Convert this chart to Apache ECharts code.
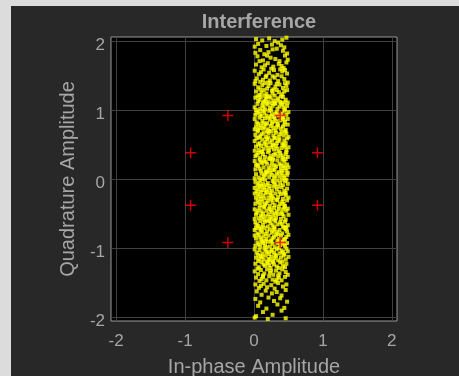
<!DOCTYPE html>
<html>
<head>
<meta charset="utf-8">
<script src="https://cdn.jsdelivr.net/npm/echarts@6/dist/echarts.min.js"></script>
<style>html,body{margin:0;padding:0;background:#dcdcdc;}#c{width:459px;height:376px;}</style>
</head>
<body>
<div id="c"></div>
<script>
const titleText = 'Interference';
const xName = 'In-phase Amplitude';
const yName = 'Quadrature Amplitude';
const tickValues = [-2, -1, 0, 1, 2];

// reference constellation (red +)
const refI = [0.92, 0.38, -0.38, -0.92, -0.92, -0.38, 0.38, 0.92];
const refQ = [0.38, 0.92, 0.92, 0.38, -0.38, -0.92, -0.92, -0.38];

// received interference samples (yellow), [I, Q]
const interfPoints = [
[0.03,2.03],[0.22,2.04],[0.41,2.02],[0.12,2.01],[0.47,2.05],[0.30,2.00],
[0.06,1.96],[0.18,1.93],[0.35,1.98],[0.44,1.91],[0.26,1.95],[0.01,1.92],[0.39,1.94],
[0.09,1.87],[0.21,1.84],[0.33,1.89],[0.48,1.82],[0.15,1.81],[0.42,1.86],[0.02,1.83],[0.27,1.88],
[0.05,1.78],[0.13,1.72],[0.24,1.76],[0.37,1.71],[0.45,1.79],[0.31,1.74],[0.19,1.79],[0.49,1.73],[0.08,1.71],
[0.03,1.66],[0.11,1.62],[0.20,1.68],[0.28,1.63],[0.36,1.67],[0.43,1.61],[0.16,1.65],[0.47,1.69],[0.25,1.60],[0.40,1.64],
[0.01,1.57],[0.07,1.52],[0.14,1.59],[0.22,1.54],[0.29,1.58],[0.34,1.51],[0.41,1.56],[0.48,1.53],[0.18,1.50],[0.38,1.59],[0.10,1.55],[0.45,1.58],
[0.04,1.46],[0.09,1.41],[0.17,1.48],[0.23,1.43],[0.30,1.47],[0.35,1.42],[0.44,1.45],[0.49,1.40],[0.13,1.44],[0.27,1.49],[0.40,1.49],[0.02,1.42],[0.20,1.40],
[0.01,1.38],[0.06,1.33],[0.12,1.36],[0.19,1.31],[0.24,1.39],[0.31,1.34],[0.37,1.37],[0.42,1.32],[0.47,1.35],[0.15,1.39],[0.28,1.30],[0.45,1.39],[0.09,1.30],[0.33,1.38],[0.21,1.35],
[0.03,1.27],[0.08,1.22],[0.14,1.29],[0.18,1.24],[0.26,1.28],[0.30,1.21],[0.36,1.26],[0.41,1.23],[0.48,1.29],[0.11,1.25],[0.22,1.20],[0.33,1.29],[0.44,1.27],[0.05,1.20],[0.39,1.20],[0.16,1.21],[0.27,1.24],
[0.02,1.18],[0.06,1.13],[0.10,1.19],[0.13,1.11],[0.17,1.16],[0.21,1.12],[0.24,1.18],[0.28,1.14],[0.31,1.10],[0.35,1.17],[0.38,1.12],[0.42,1.19],[0.46,1.15],[0.49,1.11],[0.08,1.15],[0.19,1.19],[0.33,1.14],[0.44,1.11],[0.26,1.10],[0.15,1.13],
[0.01,1.04],[0.05,1.09],[0.09,1.02],[0.12,1.07],[0.16,1.01],[0.20,1.08],[0.23,1.03],[0.27,1.06],[0.30,1.09],[0.34,1.02],[0.37,1.05],[0.41,1.08],[0.45,1.01],[0.48,1.06],[0.03,1.00],[0.14,1.05],[0.25,1.00],[0.39,1.10],[0.43,1.04],[0.18,1.10],
[0.02,0.93],[0.07,0.98],[0.11,0.91],[0.15,0.96],[0.18,0.92],[0.22,0.99],[0.26,0.94],[0.29,0.90],[0.33,0.97],[0.36,0.92],[0.40,0.95],[0.44,0.99],[0.47,0.93],[0.50,0.97],[0.04,0.96],[0.13,0.99],[0.24,0.91],[0.31,0.95],[0.42,0.90],[0.09,0.94],
[0.01,0.87],[0.04,0.82],[0.08,0.89],[0.12,0.84],[0.16,0.88],[0.19,0.81],[0.23,0.86],[0.27,0.83],[0.30,0.88],[0.34,0.80],[0.38,0.85],[0.41,0.89],[0.45,0.83],[0.49,0.87],[0.06,0.80],[0.14,0.81],[0.21,0.89],[0.32,0.84],[0.43,0.86],[0.26,0.80],
[0.03,0.76],[0.06,0.71],[0.10,0.78],[0.13,0.73],[0.17,0.79],[0.20,0.72],[0.24,0.77],[0.28,0.74],[0.31,0.70],[0.35,0.78],[0.39,0.73],[0.42,0.76],[0.46,0.71],[0.49,0.79],[0.01,0.72],[0.15,0.75],[0.22,0.70],[0.33,0.75],[0.44,0.79],[0.08,0.74],
[0.02,0.64],[0.05,0.69],[0.09,0.62],[0.14,0.67],[0.17,0.61],[0.21,0.66],[0.25,0.69],[0.28,0.63],[0.32,0.67],[0.36,0.61],[0.40,0.68],[0.43,0.63],[0.47,0.66],[0.50,0.61],[0.11,0.65],[0.19,0.69],[0.30,0.60],[0.38,0.65],[0.07,0.60],[0.45,0.69],
[0.01,0.55],[0.04,0.59],[0.08,0.52],[0.12,0.57],[0.15,0.51],[0.19,0.58],[0.23,0.53],[0.26,0.56],[0.30,0.59],[0.33,0.52],[0.37,0.57],[0.41,0.51],[0.44,0.56],[0.48,0.59],[0.06,0.50],[0.17,0.54],[0.28,0.50],[0.35,0.55],[0.46,0.52],[0.21,0.60],
[0.03,0.47],[0.07,0.42],[0.10,0.48],[0.14,0.44],[0.18,0.49],[0.22,0.41],[0.25,0.46],[0.29,0.43],[0.32,0.48],[0.36,0.40],[0.40,0.45],[0.43,0.49],[0.47,0.42],[0.50,0.46],[0.01,0.41],[0.12,0.40],[0.20,0.45],[0.34,0.44],[0.45,0.47],[0.27,0.49],
[0.02,0.33],[0.06,0.38],[0.09,0.31],[0.13,0.36],[0.16,0.32],[0.20,0.39],[0.24,0.34],[0.27,0.30],[0.31,0.37],[0.35,0.33],[0.38,0.38],[0.42,0.31],[0.46,0.36],[0.49,0.32],[0.04,0.35],[0.11,0.39],[0.22,0.30],[0.29,0.35],[0.40,0.34],[0.47,0.39],
[0.01,0.26],[0.05,0.21],[0.08,0.28],[0.12,0.23],[0.15,0.27],[0.19,0.22],[0.23,0.29],[0.26,0.24],[0.30,0.20],[0.34,0.27],[0.37,0.22],[0.41,0.28],[0.44,0.25],[0.48,0.21],[0.03,0.20],[0.17,0.25],[0.28,0.28],[0.39,0.20],[0.10,0.25],[0.46,0.29],
[0.02,0.14],[0.06,0.19],[0.10,0.12],[0.14,0.17],[0.17,0.11],[0.21,0.16],[0.25,0.19],[0.28,0.13],[0.32,0.18],[0.36,0.10],[0.39,0.15],[0.43,0.19],[0.47,0.12],[0.50,0.17],[0.08,0.15],[0.19,0.10],[0.30,0.14],[0.41,0.12],[0.23,0.13],[0.45,0.16],
[0.03,0.07],[0.07,0.02],[0.11,0.08],[0.14,0.04],[0.18,0.09],[0.22,0.03],[0.26,0.06],[0.29,0.01],[0.33,0.08],[0.37,0.04],[0.40,0.09],[0.44,0.02],[0.48,0.06],[0.01,0.01],[0.12,0.00],[0.16,0.06],[0.24,0.09],[0.31,0.04],[0.42,0.05],[0.49,0.09],
[0.02,-0.04],[0.05,-0.09],[0.09,-0.02],[0.13,-0.07],[0.16,-0.01],[0.20,-0.06],[0.23,-0.10],[0.27,-0.03],[0.31,-0.08],[0.34,-0.02],[0.38,-0.06],[0.42,-0.09],[0.45,-0.03],[0.49,-0.07],[0.07,-0.06],[0.18,-0.09],[0.29,-0.05],[0.40,-0.01],[0.11,-0.10],[0.47,-0.01],
[0.01,-0.13],[0.04,-0.18],[0.08,-0.11],[0.12,-0.16],[0.15,-0.12],[0.19,-0.19],[0.22,-0.14],[0.26,-0.17],[0.29,-0.11],[0.33,-0.15],[0.37,-0.19],[0.40,-0.12],[0.44,-0.17],[0.48,-0.14],[0.06,-0.15],[0.17,-0.16],[0.24,-0.20],[0.35,-0.11],[0.46,-0.20],[0.10,-0.19],
[0.03,-0.27],[0.06,-0.22],[0.10,-0.29],[0.13,-0.24],[0.17,-0.21],[0.21,-0.27],[0.24,-0.23],[0.28,-0.28],[0.31,-0.21],[0.35,-0.26],[0.39,-0.22],[0.42,-0.29],[0.46,-0.24],[0.50,-0.27],[0.01,-0.21],[0.15,-0.28],[0.26,-0.25],[0.33,-0.30],[0.44,-0.21],[0.08,-0.25],
[0.02,-0.36],[0.05,-0.31],[0.09,-0.38],[0.12,-0.33],[0.16,-0.37],[0.20,-0.32],[0.23,-0.39],[0.27,-0.34],[0.30,-0.38],[0.34,-0.31],[0.38,-0.36],[0.41,-0.33],[0.45,-0.39],[0.48,-0.31],[0.07,-0.34],[0.14,-0.40],[0.25,-0.30],[0.36,-0.40],[0.43,-0.36],[0.18,-0.35],
[0.01,-0.44],[0.04,-0.49],[0.08,-0.42],[0.11,-0.47],[0.15,-0.41],[0.18,-0.46],[0.22,-0.43],[0.26,-0.48],[0.29,-0.42],[0.33,-0.47],[0.36,-0.44],[0.40,-0.49],[0.44,-0.41],[0.47,-0.46],[0.06,-0.46],[0.13,-0.50],[0.24,-0.45],[0.31,-0.50],[0.42,-0.44],[0.49,-0.43],
[0.03,-0.52],[0.07,-0.57],[0.10,-0.53],[0.14,-0.59],[0.17,-0.54],[0.21,-0.51],[0.25,-0.58],[0.28,-0.53],[0.32,-0.56],[0.35,-0.51],[0.39,-0.58],[0.43,-0.54],[0.46,-0.59],[0.50,-0.52],[0.01,-0.58],[0.12,-0.55],[0.19,-0.60],[0.30,-0.59],[0.41,-0.51],[0.23,-0.55],
[0.02,-0.63],[0.06,-0.68],[0.09,-0.61],[0.13,-0.66],[0.16,-0.62],[0.20,-0.69],[0.24,-0.64],[0.27,-0.67],[0.31,-0.61],[0.34,-0.66],[0.38,-0.63],[0.42,-0.69],[0.45,-0.62],[0.49,-0.67],[0.04,-0.66],[0.11,-0.70],[0.22,-0.61],[0.29,-0.70],[0.40,-0.65],[0.47,-0.70],
[0.01,-0.74],[0.05,-0.79],[0.08,-0.72],[0.12,-0.77],[0.15,-0.71],[0.19,-0.76],[0.23,-0.73],[0.26,-0.78],[0.30,-0.72],[0.33,-0.77],[0.37,-0.74],[0.41,-0.79],[0.44,-0.71],[0.48,-0.76],[0.10,-0.75],[0.17,-0.80],[0.28,-0.75],[0.35,-0.80],[0.46,-0.73],[0.03,-0.71],
[0.03,-0.86],[0.07,-0.81],[0.11,-0.88],[0.14,-0.83],[0.18,-0.87],[0.21,-0.82],[0.25,-0.89],[0.29,-0.84],[0.32,-0.81],[0.36,-0.87],[0.39,-0.82],[0.43,-0.88],[0.47,-0.84],[0.50,-0.81],[0.01,-0.82],[0.09,-0.85],[0.16,-0.90],[0.27,-0.86],[0.34,-0.90],[0.45,-0.87],
[0.02,-0.97],[0.05,-0.92],[0.09,-0.98],[0.13,-0.93],[0.16,-0.96],[0.20,-0.91],[0.23,-0.98],[0.27,-0.94],[0.30,-0.99],[0.34,-0.93],[0.38,-0.96],[0.41,-0.91],[0.45,-0.97],[0.48,-0.93],[0.07,-0.95],[0.18,-0.99],[0.25,-0.91],[0.36,-1.00],[0.43,-0.94],[0.11,-0.91],
[0.01,-1.02],[0.04,-1.07],[0.08,-1.03],[0.12,-1.08],[0.15,-1.01],[0.19,-1.06],[0.22,-1.09],[0.26,-1.03],[0.29,-1.07],[0.33,-1.02],[0.37,-1.08],[0.40,-1.04],[0.44,-1.09],[0.47,-1.01],[0.06,-1.10],[0.17,-1.04],[0.31,-1.10],[0.42,-1.06],[0.24,-1.05],[0.49,-1.05],
[0.03,-1.14],[0.06,-1.19],[0.10,-1.12],[0.14,-1.17],[0.17,-1.11],[0.21,-1.16],[0.25,-1.13],[0.28,-1.19],[0.32,-1.12],[0.35,-1.18],[0.39,-1.14],[0.43,-1.11],[0.46,-1.17],[0.50,-1.13],[0.08,-1.16],[0.19,-1.20],[0.30,-1.15],[0.41,-1.20],[0.12,-1.13],[0.23,-1.18],
[0.02,-1.23],[0.07,-1.28],[0.11,-1.21],[0.16,-1.26],[0.20,-1.22],[0.24,-1.29],[0.29,-1.24],[0.33,-1.27],[0.38,-1.21],[0.42,-1.26],[0.47,-1.23],[0.05,-1.30],[0.14,-1.24],[0.27,-1.21],[0.36,-1.29],[0.45,-1.28],[0.22,-1.25],
[0.01,-1.34],[0.06,-1.38],[0.10,-1.32],[0.15,-1.37],[0.19,-1.31],[0.23,-1.36],[0.28,-1.39],[0.32,-1.33],[0.37,-1.37],[0.41,-1.31],[0.46,-1.35],[0.49,-1.39],[0.13,-1.40],[0.25,-1.33],[0.35,-1.40],
[0.03,-1.43],[0.08,-1.48],[0.13,-1.42],[0.18,-1.47],[0.22,-1.41],[0.27,-1.46],[0.31,-1.49],[0.36,-1.43],[0.40,-1.47],[0.45,-1.42],[0.11,-1.45],[0.33,-1.46],
[0.02,-1.53],[0.07,-1.58],[0.14,-1.52],[0.19,-1.57],[0.25,-1.54],[0.30,-1.59],[0.35,-1.51],[0.42,-1.56],[0.47,-1.53],[0.10,-1.55],
[0.04,-1.63],[0.11,-1.68],[0.17,-1.62],[0.26,-1.66],[0.33,-1.64],[0.40,-1.69],[0.46,-1.61],
[0.02,-1.74],[0.09,-1.79],[0.21,-1.72],[0.29,-1.77],[0.38,-1.73],[0.48,-1.78],
[0.06,-1.84],[0.18,-1.88],[0.34,-1.82],[0.44,-1.87],
[0.13,-1.93],[0.27,-1.97],[0.40,-1.91],[0.03,-1.99],
[0.01,-2.01],[0.20,-2.03],[0.46,-2.02]
];

const chart = echarts.init(document.getElementById('c'));
const labelColor = '#a6a6a6';
const fontFam = '"Liberation Sans", Arial, Helvetica, sans-serif';
const plusPath = 'path://M3.9,0h1.2v3.9h3.9v1.2h-3.9v3.9h-1.2v-3.9h-3.9v-1.2h3.9z';

function axisCommon() {
  return {
    type: 'value',
    min: -2.075, max: 2.075,
    axisLine: { show: false },
    axisTick: { show: false, customValues: tickValues },
    splitLine: { show: true, lineStyle: { color: '#404040', width: 1 } },
    axisLabel: { customValues: tickValues, color: labelColor, fontSize: 17, fontFamily: fontFam },
    nameLocation: 'middle',
    nameTextStyle: { color: labelColor, fontSize: 20, fontFamily: fontFam }
  };
}

const xAxis = axisCommon();
xAxis.name = xName;
xAxis.nameGap = 36;
xAxis.axisLabel.margin = 12;

const yAxis = axisCommon();
yAxis.min = -2.06; yAxis.max = 2.06;
yAxis.name = yName;
yAxis.nameGap = 27;
yAxis.axisLabel.margin = 6;
yAxis.axisLabel.verticalAlign = 'top';
yAxis.axisLabel.lineHeight = 9;

chart.setOption({
  backgroundColor: '#dcdcdc',
  animation: false,
  graphic: [{
    type: 'rect', z: -10, silent: true,
    shape: { x: 11, y: 6, width: 448, height: 370 },
    style: { fill: '#282828' }
  }],
  title: {
    text: titleText, left: 254, top: 7, textAlign: 'center',
    textStyle: { color: labelColor, fontSize: 20, fontWeight: 'bold', fontFamily: fontFam }
  },
  grid: {
    left: 111, top: 37, width: 286, height: 284,
    outerBoundsMode: 'none', containLabel: false,
    show: true, backgroundColor: '#000000', borderColor: '#9a9a9a', borderWidth: 1
  },
  xAxis: xAxis,
  yAxis: yAxis,
  series: [
    {
      type: 'scatter', name: 'interference',
      data: interfPoints,
      symbol: 'rect', symbolSize: 4,
      itemStyle: { color: '#ffff00' }, silent: true
    },
    {
      type: 'scatter', name: 'reference',
      data: refI.map((v, i) => [v, refQ[i]]),
      symbol: plusPath, symbolSize: 11,
      itemStyle: { color: '#ff0000' }, silent: true, z: 5
    }
  ]
});
</script>
</body>
</html>
